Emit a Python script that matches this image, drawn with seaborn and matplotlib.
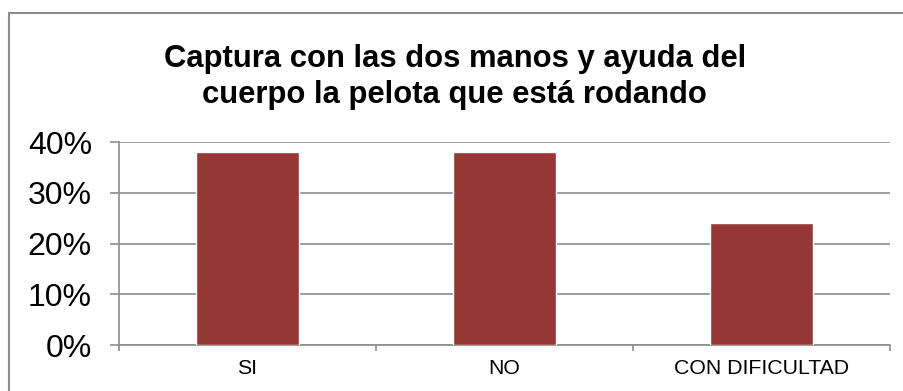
import matplotlib
matplotlib.use("Agg")
import matplotlib.pyplot as plt
import seaborn as sns
import pandas as pd
from matplotlib.patches import Rectangle
from matplotlib.ticker import PercentFormatter

# data
categorias = ["SI", "NO", "CON DIFICULTAD"]
porcentajes = [38, 38, 24]

df = pd.DataFrame({"categoria": categorias, "porcentaje": porcentajes})

sns.set_style("white")
plt.rcParams["font.family"] = ["Liberation Sans", "DejaVu Sans"]
plt.rcParams["text.color"] = "black"

fig = plt.figure(figsize=(9.04, 3.91), dpi=100)
ax = fig.add_axes([0.1316, 0.1176, 0.8529, 0.5192])

sns.barplot(data=df, x="categoria", y="porcentaje", color="#953735",
            width=0.4, saturation=1, ax=ax, zorder=3)

ax.set_ylim(0, 40)
ax.set_yticks([0, 10, 20, 30, 40])
ax.yaxis.set_major_formatter(PercentFormatter(decimals=0))
ax.grid(axis="y", color="#8c8c8c", linewidth=1.2, zorder=0)
ax.set_xlabel("")
ax.set_ylabel("")

for s in ["top", "right"]:
    ax.spines[s].set_visible(False)
for s in ["left", "bottom"]:
    ax.spines[s].set_color("#8c8c8c")
    ax.spines[s].set_linewidth(1.2)

ax.tick_params(axis="y", labelsize=23, length=6.5, color="#8c8c8c", labelcolor="black",
               width=1.2, left=True, pad=13)
ax.tick_params(axis="x", labelsize=15.3, length=0, pad=10, labelcolor="black")
# minor x ticks at category boundaries
ax.set_xticks([-0.5, 0.5, 1.5, 2.5], minor=True)
ax.tick_params(axis="x", which="minor", length=4, color="#8c8c8c", width=1.2, bottom=True)
ax.set_xlim(-0.5, 2.5)

fig.text(0.503, 0.803, "Captura con las dos manos y ayuda del\ncuerpo la pelota que está rodando",
         ha="center", va="center", fontsize=22.3, fontweight="bold", linespacing=1.3,
         color="black")

# chart border
fig.patches.append(Rectangle((0.010, -0.1), 1.1, 0.1 + 1 - 13 / 391, transform=fig.transFigure,
                             fill=False, edgecolor="#8c8c8c", linewidth=1.5))

fig.savefig("out.png", dpi=100)
